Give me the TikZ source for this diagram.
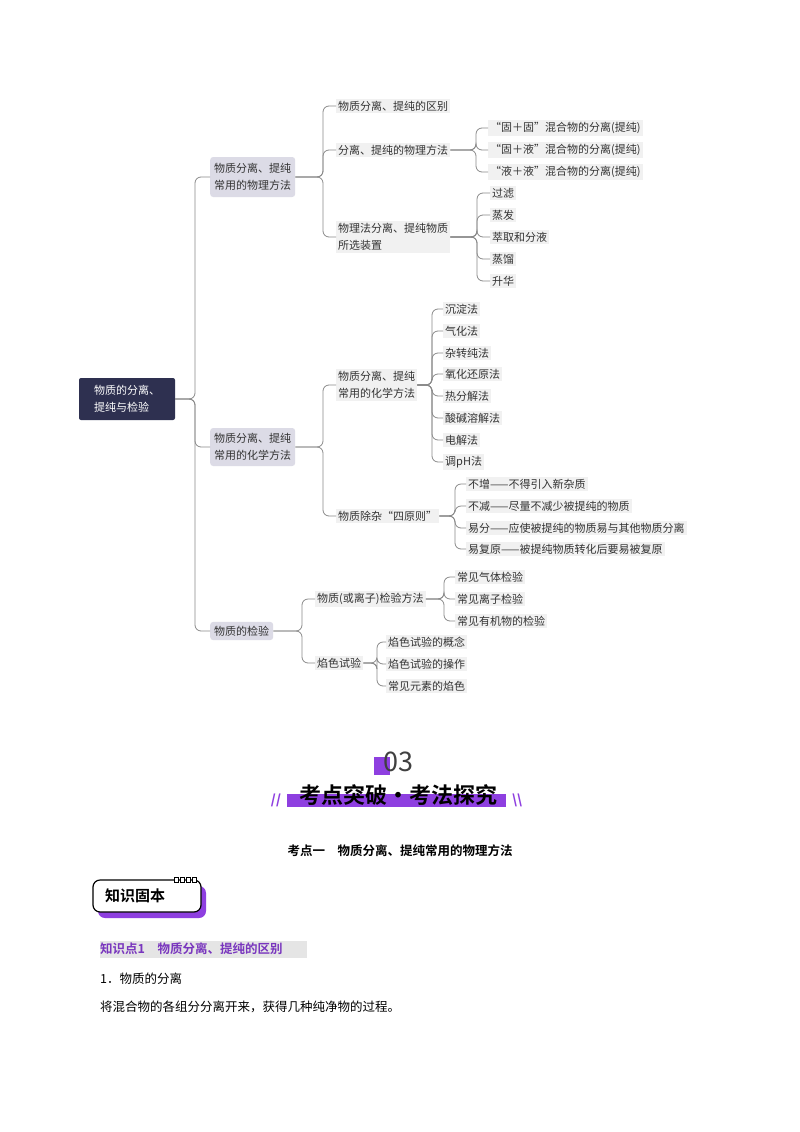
\documentclass[tikz,border=0pt]{standalone}
\usepackage{fontspec}
\setmainfont{Noto Sans CJK SC}
\newfontfamily\cjkb{Noto Sans CJK SC Bold}
\usetikzlibrary{positioning}
\definecolor{navy}{HTML}{2E3050}
\definecolor{lav}{HTML}{DCDBE6}
\definecolor{lgray}{HTML}{F1F1F1}
\definecolor{lnk}{HTML}{8A8A8A}
\definecolor{purp}{HTML}{8E3FE0}
\begin{document}
\begin{tikzpicture}[x=1pt,y=-1pt,
  rootbox/.style={fill=navy,text=white,rounded corners=2pt,font=\fontsize{11}{17}\selectfont,align=left,inner sep=5pt,minimum height=42pt,minimum width=96pt},
  l1box/.style={fill=lav,text=black!80,rounded corners=3pt,font=\fontsize{11}{17}\selectfont,align=left,inner sep=4pt,anchor=west},
  lf/.style={fill=lgray,text=black!80,font=\fontsize{11}{17}\selectfont,align=left,inner sep=2pt,anchor=west},
  conn/.style={draw=lnk,line width=0.8pt,rounded corners=6pt}]
\useasboundingbox (0,0) rectangle (800,1132);
\fill[white] (0,0) rectangle (800,1132);
% root
\node[rootbox] (root) at (127,399) {物质的分离、\\提纯与检验};
\node[l1box,minimum height=40pt] (A) at (210,177) {物质分离、提纯\\常用的物理方法};
\node[l1box,minimum height=38pt] (B) at (210,447) {物质分离、提纯\\常用的化学方法};
\node[l1box] (C) at (210,631) {物质的检验};
\coordinate (b0) at (195,0);
\foreach \c in {A,B,C}{\draw[conn] (root.east) -- (root.east -| b0) |- (\c.west);}
% A children
\node[lf] (A1) at (336,106) {物质分离、提纯的区别};
\node[lf] (A2) at (336,150) {分离、提纯的物理方法};
\node[lf] (A3) at (336,237) {物理法分离、提纯物质\\所选装置};
\coordinate (bA) at (323,0);
\foreach \c in {A1,A2,A3}{\draw[conn] (A.east) -- (A.east -| bA) |- (\c.west);}
\node[lf] (A21) at (488,128) {“固＋固”混合物的分离(提纯)};
\node[lf] (A22) at (488,150) {“固＋液”混合物的分离(提纯)};
\node[lf] (A23) at (488,172) {“液＋液”混合物的分离(提纯)};
\coordinate (bA2) at (476,0);
\foreach \c in {A21,A22,A23}{\draw[conn] (A2.east) -- (A2.east -| bA2) |- (\c.west);}
\foreach \t/\y/\n in {过滤/193/1,蒸发/215/2,萃取和分液/237/3,蒸馏/259/4,升华/281/5}
  {\node[lf] (A3\n) at (490,\y) {\t};}
\coordinate (bA3) at (477,0);
\foreach \c in {A31,A32,A33,A34,A35}{\draw[conn] (A3.east) -- (A3.east -| bA3) |- (\c.west);}
% B children
\node[lf] (B1) at (336,385) {物质分离、提纯\\常用的化学方法};
\node[lf] (B2) at (336,516) {物质除杂“四原则”};
\coordinate (bB) at (323,0);
\foreach \c in {B1,B2}{\draw[conn] (B.east) -- (B.east -| bB) |- (\c.west);}
\foreach \t/\y/\n in {沉淀法/309/1,气化法/331/2,杂转纯法/353/3,氧化还原法/374/4,热分解法/396/5,酸碱溶解法/418/6,电解法/440/7,调pH法/462/8}
  {\node[lf] (B1\n) at (443,\y) {\t};}
\coordinate (bB1) at (432,0);
\foreach \n in {1,...,8}{\draw[conn] (B1.east) -- (B1.east -| bB1) |- (B1\n.west);}
\foreach \t/\y/\n in {不增——不得引入新杂质/484/1,不减——尽量不减少被提纯的物质/506/2,易分——应使被提纯的物质易与其他物质分离/528/3,易复原——被提纯物质转化后要易被复原/549/4}
  {\node[lf] (B2\n) at (466,\y) {\t};}
\coordinate (bB2) at (455,0);
\foreach \n in {1,...,4}{\draw[conn] (B2.east) -- (B2.east -| bB2) |- (B2\n.west);}
% C children
\node[lf] (C1) at (315,599) {物质(或离子)检验方法};
\node[lf] (C2) at (315,663) {焰色试验};
\coordinate (bC) at (302,0);
\foreach \c in {C1,C2}{\draw[conn] (C.east) -- (C.east -| bC) |- (\c.west);}
\foreach \t/\y/\n in {常见气体检验/577/1,常见离子检验/599/2,常见有机物的检验/621/3}
  {\node[lf] (C1\n) at (455,\y) {\t};}
\coordinate (bC1) at (444,0);
\foreach \n in {1,2,3}{\draw[conn] (C1.east) -- (C1.east -| bC1) |- (C1\n.west);}
\foreach \t/\y/\n in {焰色试验的概念/642/1,焰色试验的操作/664/2,常见元素的焰色/686/3}
  {\node[lf] (C2\n) at (386,\y) {\t};}
\coordinate (bC2) at (377,0);
\foreach \n in {1,2,3}{\draw[conn] (C2.east) -- (C2.east -| bC2) |- (C2\n.west);}
% heading
\fill[purp] (374,757) rectangle (390,775);
\node[text=black!75,font=\fontsize{27}{27}\selectfont] (num) at (398,762) {03};
\fill[purp] (287,794) rectangle (506,807);
\node[font=\cjkb\fontsize{22}{22}\selectfont] (ttl) at (398,795) {考点突破•考法探究};
\node[text=purp,font=\bfseries\fontsize{13}{13}\selectfont] (sl) at (276,800) {//};
\node[text=purp,font=\bfseries\fontsize{13}{13}\selectfont,xscale=-1] (sr) at (517,800) {//};
\node[font=\cjkb\fontsize{12.5}{12.5}\selectfont] (kd) at (400,851) {考点一\quad 物质分离、提纯常用的物理方法};
% badge
\fill[purp,rounded corners=7pt] (98,886) rectangle (206,918);
\draw[line width=1.2pt,fill=white,rounded corners=7pt] (93,880) rectangle (201,912);
\foreach \i in {0,1,2,3}{\draw[line width=0.9pt,fill=white] (174+\i*6,877) rectangle (178+\i*6,882);}
\node[font=\cjkb\fontsize{15}{15}\selectfont] (bd) at (135,896) {知识固本};
% text
\fill[black!10] (100,941) rectangle (307,958);
\node[anchor=west,text=purp!85!black,font=\cjkb\fontsize{12.5}{12.5}\selectfont,inner sep=0pt] (kp) at (100,949) {知识点1\quad 物质分离、提纯的区别};
\node[anchor=west,font=\fontsize{12.5}{12.5}\selectfont,inner sep=0pt] (t1) at (100,979) {1．物质的分离};
\node[anchor=west,font=\fontsize{12.5}{12.5}\selectfont,inner sep=0pt] (t2) at (100,1007) {将混合物的各组分分离开来，获得几种纯净物的过程。};
\end{tikzpicture}
\end{document}
